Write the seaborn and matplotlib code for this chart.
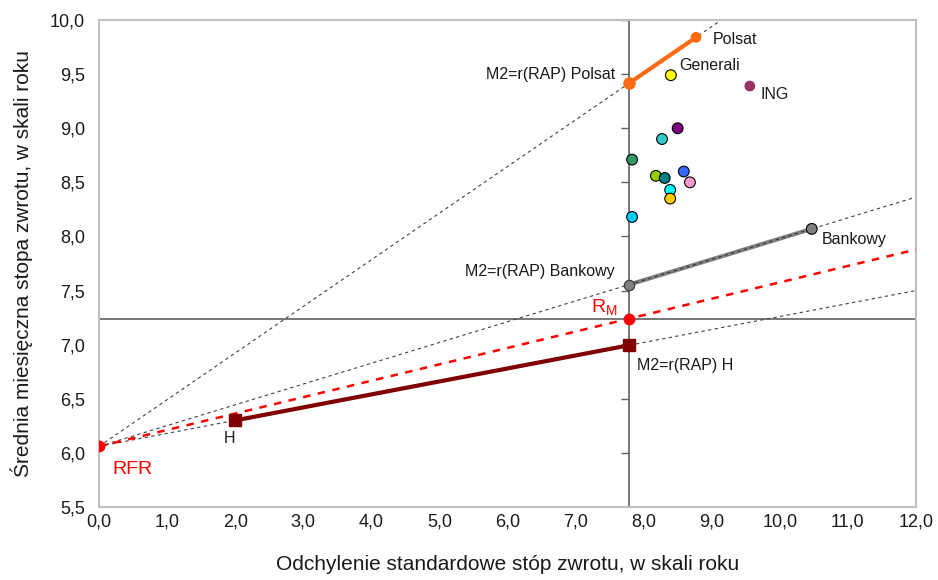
import numpy as np
import pandas as pd
import matplotlib
matplotlib.use("Agg")
import matplotlib.pyplot as plt
import matplotlib.markers as mmarkers
from matplotlib.ticker import FuncFormatter
import seaborn as sns

# risk free rate and market portfolio
rfr = 6.06
sigma_m = 7.785
r_m = 7.24

# funds (std dev, return)
fund_names = ['Polsat', 'Generali', 'ING', 'F4', 'F5', 'F6', 'F7', 'F8', 'F9', 'F10', 'F11', 'F12', 'F13', 'Bankowy', 'H']
fund_std = [8.77, 8.40, 9.56, 8.50, 8.27, 7.83, 8.18, 8.31, 8.59, 8.68, 8.39, 8.39, 7.83, 10.47, 2.00]
fund_ret = [9.84, 9.49, 9.39, 9.00, 8.90, 8.71, 8.56, 8.54, 8.60, 8.50, 8.43, 8.35, 8.18, 8.07, 6.30]
fund_colors = ['#FF6A13', '#FFFF00', '#993366', '#800080', '#33CCCC', '#339966', '#99CC00',
               '#008080', '#3366FF', '#FF99CC', '#00FFFF', '#FFCC00', '#00CCFF', '#808080', '#800000']

x_ticks = np.arange(0, 12.5, 1.0)
y_ticks = np.arange(5.5, 10.25, 0.5)

df = pd.DataFrame({'name': fund_names, 'std': fund_std, 'ret': fund_ret})
# M2 measure: return of the fund's line at market risk
df['m2'] = rfr + (df['ret'] - rfr) / df['std'] * sigma_m

sns.set_style('white')
plt.rcParams['font.family'] = ['Liberation Sans', 'DejaVu Sans']

fig = plt.figure(figsize=(9.38, 5.8), dpi=100)
ax = fig.add_axes([0.1055, 0.1259, 0.871, 0.8396])
ax.set_xlim(0, 12)
ax.set_ylim(5.5, 10)

xx = np.array([0, 12.0])

# thin dashed lines from RFR through Polsat, Bankowy and H
for n in ['Polsat', 'Bankowy', 'H']:
    row = df[df['name'] == n].iloc[0]
    slope = (row['ret'] - rfr) / row['std']
    ax.plot(xx, rfr + slope * xx, color='#404040', lw=0.8, ls=(0, (3, 3)), zorder=2)

# red dashed line RFR -> market
slope_m = (r_m - rfr) / sigma_m
ax.plot(xx, rfr + slope_m * xx, color='#FF0000', lw=1.8, ls=(0, (3, 3)), zorder=3)

# market cross lines
ax.axvline(sigma_m, color='#606060', lw=1.2, zorder=1)
ax.axhline(r_m, color='#606060', lw=1.2, zorder=1)
ax.plot([sigma_m] * len(y_ticks), y_ticks, ls='none', marker=mmarkers.TICKLEFT,
        ms=6, mew=1.0, color='#606060', zorder=1)

# solid segments fund -> M2
seg = {'Polsat': '#FF6A13', 'Bankowy': '#808080', 'H': '#800000'}
for n, c in seg.items():
    row = df[df['name'] == n].iloc[0]
    ax.plot([sigma_m, row['std']], [row['m2'], row['ret']], color=c, lw=3, zorder=4,
            solid_capstyle='butt')
bank = df[df['name'] == 'Bankowy'].iloc[0]
ax.plot([sigma_m, bank['std']], [bank['m2'], bank['ret']], color='#333333', lw=0.8,
        ls=(0, (3, 3)), zorder=4)

# fund points
pts = df[df['name'] != 'H']
edge = ['none' if n in ('Polsat', 'ING') else 'black' for n in pts['name']]
sns.scatterplot(data=pts, x='std', y='ret', hue='name', palette=dict(zip(fund_names, fund_colors)),
                s=60, edgecolor=edge, linewidth=0.8, legend=False, ax=ax, zorder=6)
h = df[df['name'] == 'H'].iloc[0]
ax.plot(h['std'], h['ret'], marker='s', ms=8, color='#800000', zorder=6)

# M2 points
polsat = df[df['name'] == 'Polsat'].iloc[0]
ax.plot(sigma_m, polsat['m2'], 'o', ms=8, color='#FF6A13', zorder=6)
ax.plot(sigma_m, bank['m2'], 'o', ms=7.5, color='#808080', mec='#333333', mew=0.8, zorder=6)
ax.plot(sigma_m, h['m2'], 's', ms=8, color='#800000', zorder=6)
ax.plot([0, sigma_m], [rfr, r_m], 'o', ls='none', ms=7.5, color='#FF0000', zorder=6)

# labels
fs = 11.5
ax.annotate('Polsat', (polsat['std'], polsat['ret']), xytext=(12, -5), textcoords='offset points', fontsize=fs, color='#1a1a1a')
gen = df[df['name'] == 'Generali'].iloc[0]
ax.annotate('Generali', (gen['std'], gen['ret']), xytext=(6, 4), textcoords='offset points', fontsize=fs, color='#1a1a1a')
ing = df[df['name'] == 'ING'].iloc[0]
ax.annotate('ING', (ing['std'], ing['ret']), xytext=(8, -9), textcoords='offset points', fontsize=fs, color='#1a1a1a')
ax.annotate('Bankowy', (bank['std'], bank['ret']), xytext=(7, -11), textcoords='offset points', fontsize=fs, color='#1a1a1a')
ax.annotate('H', (h['std'], h['ret']), xytext=(-4, -16), textcoords='offset points', fontsize=fs, color='#1a1a1a', ha='center')
ax.annotate('M2=r(RAP) Polsat', (sigma_m, polsat['m2']), xytext=(-10, 3), textcoords='offset points', fontsize=fs, color='#1a1a1a', ha='right')
ax.annotate('M2=r(RAP) Bankowy', (sigma_m, bank['m2']), xytext=(-10, 6), textcoords='offset points', fontsize=fs, color='#1a1a1a', ha='right')
ax.annotate('M2=r(RAP) H', (sigma_m, h['m2']), xytext=(6, -18), textcoords='offset points', fontsize=fs, color='#1a1a1a')
ax.annotate('RFR', (0, rfr), xytext=(10, -20), textcoords='offset points', fontsize=14, color='#FF0000')
ax.annotate('R$_\\mathregular{M}$', (sigma_m, r_m), xytext=(-27, 4), textcoords='offset points', fontsize=14, color='#FF0000')

comma = FuncFormatter(lambda v, p: f'{v:.1f}'.replace('.', ','))
ax.set_xticks(x_ticks)
ax.set_yticks(y_ticks)
ax.xaxis.set_major_formatter(comma)
ax.yaxis.set_major_formatter(comma)
ax.tick_params(axis='y', length=0, labelsize=13, pad=10, colors='#1a1a1a')
ax.tick_params(axis='x', length=0, labelsize=13, pad=5, colors='#1a1a1a')
ax.set_xlabel('Odchylenie standardowe stóp zwrotu, w skali roku', fontsize=15, labelpad=17, color='#1a1a1a')
ax.set_ylabel('Średnia miesięczna stopa zwrotu, w skali roku', fontsize=15, labelpad=12, color='#1a1a1a')
for sp in ax.spines.values():
    sp.set_color('#C0C0C0')
    sp.set_linewidth(1.5)

fig.savefig('out.png', dpi=100)
